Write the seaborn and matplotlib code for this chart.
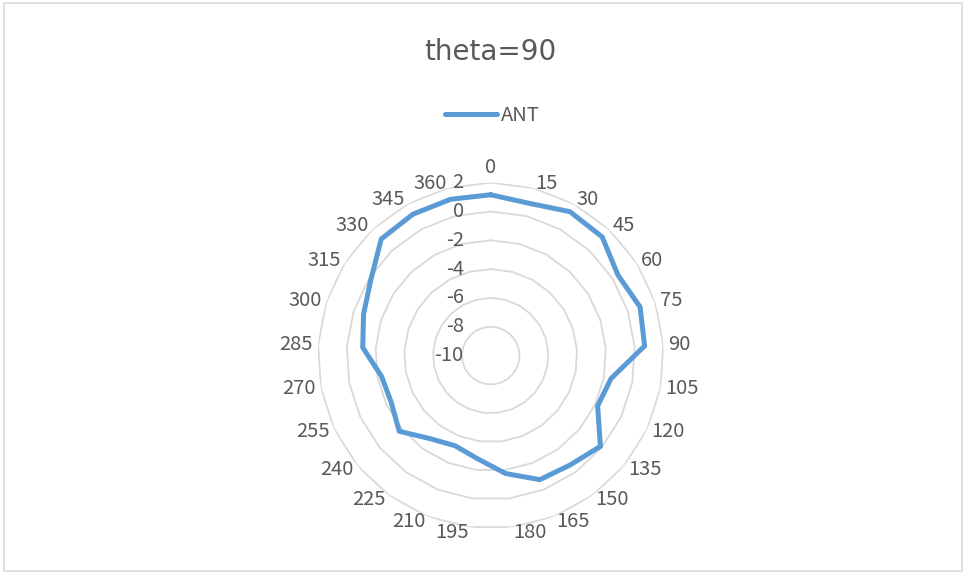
import numpy as np
import pandas as pd
import matplotlib
matplotlib.use("Agg")
import matplotlib.pyplot as plt
import matplotlib.transforms as mtransforms
import seaborn as sns

# chart data
categories = [0, 15, 30, 45, 60, 75, 90, 105, 120, 135, 150, 165, 180,
              195, 210, 225, 240, 255, 270, 285, 300, 315, 330, 345, 360]
ant = [1.16, 0.9, 1.4, 1.3, 0.45, 0.9, 0.7, -1.5, -1.8, -0.12, -0.62, -0.74, -1.75,
       -2.78, -3.27, -2.87, -1.76, -2.37, -2.29, -1.1, -0.72, -0.15, 1.1, 1.2, 1.2]
r_ticks = [-10, -8, -6, -4, -2, 0, 2]
title = "theta=90"
series_name = "ANT"

sns.set_style("white")
plt.rcParams['font.family'] = ['Noto Sans CJK SC', 'DejaVu Sans']

blue = "#5B9BD5"
grid_col = "#D9D9D9"
text_col = "#595959"
fs = 14.5

n = len(categories)
theta = 2 * np.pi * np.arange(n) / n
# close the loop: last point goes back to the first category
df = pd.DataFrame({"theta": np.append(theta, 2 * np.pi), "value": ant + [ant[0]]})

fig = plt.figure(figsize=(9.66, 5.74), dpi=100)
ax = fig.add_axes([0.329, 0.079, 0.358, 0.603], projection="polar")
ax.set_theta_offset(np.pi / 2)
ax.set_theta_direction(-1)
ax.set_ylim(r_ticks[0], r_ticks[-1])

# polygonal gridlines like Excel radar
ax.grid(False)
ax.spines["polar"].set_visible(False)
ring_t = np.append(theta, theta[0])
for rv in r_ticks[1:]:
    ax.plot(ring_t, np.full(len(ring_t), rv), color=grid_col, lw=1.3, zorder=1)

sns.lineplot(data=df, x="theta", y="value", ax=ax, sort=False, estimator=None,
             color=blue, lw=3.6, label=series_name, legend=False, zorder=3)

ax.set_xlabel("")
ax.set_ylabel("")
ax.set_xticks([])
ax.set_yticks([])

# category labels, Excel style: anchored just outside the outer ring
r_lab = r_ticks[-1] + 0.35
for t, c in zip(theta, categories):
    s = np.sin(t)
    if abs(s) < 1e-6:
        ax.text(t, r_lab, str(c), ha="center", va="bottom", color=text_col, fontsize=fs)
    else:
        ax.text(t, r_lab, str(c), ha="left" if s > 0 else "right", va="center",
                color=text_col, fontsize=fs)

off = mtransforms.offset_copy(ax.transData, fig=fig, x=-27, y=0, units="dots")
for rv in r_ticks:
    ax.text(0, rv, str(rv), transform=off, ha="right", va="center",
            color=text_col, fontsize=fs)

fig.text(0.508, 0.91, title, ha="center", va="center", fontsize=20,
         color=text_col, family="DejaVu Sans")
handles, labels = ax.get_legend_handles_labels()
fig.legend(handles, labels, loc="center", bbox_to_anchor=(0.51, 0.798), frameon=False,
           fontsize=fs, handlelength=2.6, handletextpad=0.2, labelcolor=text_col)

fig.patches.append(plt.Rectangle((0.004, 0.006), 0.992, 0.988, transform=fig.transFigure,
                                 fill=False, edgecolor=grid_col, lw=1.2))

fig.savefig("out.png", dpi=100)
